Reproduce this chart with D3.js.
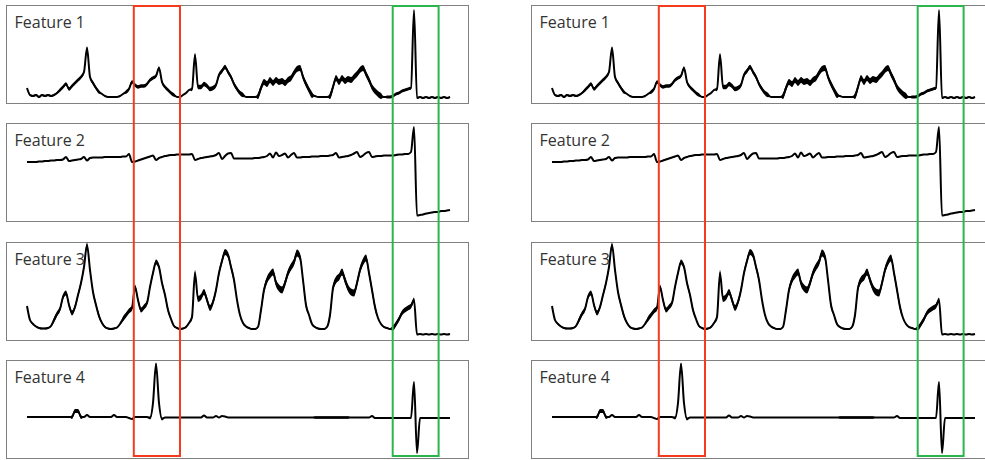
<!DOCTYPE html>
<html>
<head>
<meta charset="utf-8">
<script src="https://cdn.jsdelivr.net/npm/d3@7"></script>
<style>
  body { margin: 0; background: #fff; }
  svg { display: block; }
</style>
</head>
<body>
<div id="chart"></div>
<script>
var feature1 = [10, 3, 2, 3, 1, 3, 2, 3, 2, 3,
  5, 8, 11, 14, 9, 12, 15, 18, 21, 26,
  50, 21, 15, 10, 6, 4, 2, 1, 1, 1,
  1, 2, 4, 6, 9, 16, 13, 11, 12, 12,
  14, 18, 20, 22, 30, 16, 11, 8, 5, 3,
  1, 1, 3, 5, 8, 9, 43, 11, 11, 14,
  12, 9, 10, 13, 23, 27, 31, 26, 21, 14,
  9, 5, 3, 1, 1, 1, 1, 2, 10, 16,
  14, 18, 15, 18, 16, 17, 15, 18, 20, 25,
  29, 30, 21, 14, 8, 3, 2, 1, 1, 1,
  1, 2, 11, 20, 16, 20, 17, 19, 18, 21,
  24, 28, 30, 24, 18, 11, 7, 4, 2, 1,
  1, 1, 2, 4, 5, 7, 8, 9, 10, 88,
  0, 1, 0, 1, 0, 1, 0, 1, 0, 1,
  0, 1];

var feature2 = [54, 54, 54, 54, 54.5, 54.5, 55, 55, 55.5, 55.5,
  56, 56, 56.5, 59, 55, 55.5, 56, 56.5, 57, 59,
  55.5, 58, 58.5, 58.5, 58.5, 58.5, 59, 59, 59, 59,
  59, 59, 59.5, 59.5, 62, 54, 54.5, 55.5, 56.5, 57.5,
  58.5, 59.5, 60.5, 56, 58, 59, 60, 60.5, 61, 61,
  61.5, 61.5, 61.5, 61.5, 61.5, 62, 56, 57, 58, 58.5,
  59, 59.5, 60, 61, 63, 57, 60, 62.5, 63, 57.5,
  57.5, 57.5, 57.5, 57.5, 57.5, 57.5, 58, 58, 58.5, 59,
  60, 62.5, 58.5, 63.5, 60, 61, 62.5, 58.5, 61, 63,
  58.5, 58.5, 59, 59, 59, 59.5, 59.5, 59.5, 60, 60,
  60, 60.5, 61, 63, 58.5, 59, 59.5, 60, 61, 62.5,
  64, 59, 60.5, 63, 64, 59, 59.5, 60, 60, 60.5,
  60.5, 60.5, 60.5, 61, 61.5, 61.5, 62, 62, 64, 89,
  0.5, 1, 1.5, 2.5, 3, 3.5, 4, 4, 5, 5,
  5.5, 6];

var feature3 = [29, 15, 11, 8.5, 7, 6.5, 6.5, 7, 9, 15,
  21, 26, 38, 42, 30, 22, 28, 40, 52, 68,
  90, 65, 43, 30, 19, 12, 8, 6.5, 6, 6.5,
  7.5, 11, 16, 20, 24, 27, 48, 35, 25, 28,
  32, 48, 62, 73, 68, 52, 40, 25, 16, 9,
  7, 6, 6.5, 8, 12, 18, 62, 36, 38, 43,
  35, 27, 33, 45, 62, 74, 83, 80, 68, 55,
  35, 20, 12, 8.5, 7, 6, 6, 8, 25, 45,
  55, 60, 63, 52, 47, 45, 52, 62, 68, 73,
  82, 78, 55, 30, 20, 11, 8, 6.5, 6, 6,
  8, 20, 47, 55, 58, 63, 55, 47, 43, 42,
  52, 65, 73, 77, 62, 45, 28, 17, 11, 8,
  7, 6, 7, 11, 16, 22, 25, 27, 29, 35,
  0.5, 1, 0.5, 1, 0.5, 1, 0.5, 1, 0.5, 1,
  0.5, 1];

var feature4 = [36, 36, 36, 36, 36, 36, 36, 36, 36, 36,
  36, 36, 36, 36, 36, 36, 42, 42, 36, 36,
  38, 36, 36, 36, 36, 36, 36, 36, 36, 38,
  36, 36, 36, 36, 35, 34, 36, 36, 36, 36,
  36, 35, 50, 89, 50, 34, 35.5, 35.5, 35.5, 35.5,
  35.5, 35.5, 35.5, 35.5, 35.5, 35.5, 35.5, 35.5, 35.5, 37.5,
  35.5, 35.5, 35.5, 37, 35.5, 37, 36.5, 35.5, 35.5, 35.5,
  35.5, 35.5, 35.5, 35.5, 35.5, 35.5, 35.5, 35.5, 35.5, 35.5,
  35.5, 35.5, 35.5, 35.5, 35.5, 35.5, 35.5, 35.5, 35.5, 35.5,
  35.5, 35.5, 35.5, 35.5, 35.5, 35.5, 35.5, 35.5, 35.5, 35.5,
  35.5, 35.5, 35.5, 35.5, 35.5, 35.5, 35.5, 35.5, 35.5, 35.5,
  35.5, 35.5, 35.5, 35.5, 35.5, 37, 35, 35, 35, 35,
  35, 35, 35, 35, 35, 35, 35, 35, 35, 71,
  0, 35, 35, 35, 35, 35, 35, 35, 35, 35,
  35, 35];

// noisy stretches: [first sample, last sample, half width]
var feature1Noise = [[1, 10, 1], [11, 24, 1.8], [33, 49, 1.8], [55, 72, 2.2],
  [77, 95, 3], [101, 118, 3], [120, 128, 1.5], [130, 141, 0.8]];
var feature2Noise = [[0, 128, 0.4]];
var feature3Noise = [[1, 8, 0.8], [9, 24, 2.5], [25, 31, 0.8], [32, 47, 2.5],
  [48, 54, 0.8], [55, 69, 3], [70, 77, 0.8], [78, 93, 3.5], [94, 100, 0.8],
  [101, 116, 3.5], [117, 121, 0.8], [122, 129, 2.5]];
var feature4Noise = [[15, 18, 2], [41, 45, 1.5], [96, 107, 1.2]];

var featureNames = ["Feature 1", "Feature 2", "Feature 3", "Feature 4"];
var leftSeries = [feature1, feature2, feature3, feature4];
var rightSeries = [feature1, feature2, feature3, feature4];
var noiseSpans = [feature1Noise, feature2Noise, feature3Noise, feature4Noise];

// highlighted windows, in sample index
var redWindow = [35.6, 51];
var greenWindow = [121.9, 137.2];

// Set up the SVG canvas
var svgWidth = 985;
var svgHeight = 460;

var svg = d3.select("#chart")
    .append("svg")
    .attr("width", svgWidth)
    .attr("height", svgHeight);

var columnLeft = [6.5, 531.5];
var panelWidth = 462;
var panelHeight = 98;
var panelStep = 118.33;
var firstTop = 5;

var x = d3.scaleLinear()
    .domain([0, feature1.length - 1])
    .range([20.5, 443.5]);

var y = d3.scaleLinear()
    .domain([0, 90])
    .range([93, 3]);

var line = d3.line()
    .x(function(d) { return x(d.i); })
    .y(function(d) { return y(d.v); })
    .curve(d3.curveMonotoneX);

var band = d3.area()
    .x(function(d) { return x(d.i); })
    .y0(function(d) { return y(d.v - d.s); })
    .y1(function(d) { return y(d.v + d.s); })
    .curve(d3.curveMonotoneX);

function withSpread(values, spans) {
    return values.map(function(v, i) {
        var s = 0;
        spans.forEach(function(sp) {
            if (i >= sp[0] && i <= sp[1]) s = sp[2];
        });
        return { i: i, v: v, s: s };
    });
}

[leftSeries, rightSeries].forEach(function(series, c) {
    var col = svg.append("g")
        .attr("transform", "translate(" + columnLeft[c] + ",0)");

    series.forEach(function(values, k) {
        var top = Math.round(firstTop + k * panelStep);
        var g = col.append("g")
            .attr("transform", "translate(0," + top + ")");
        var pts = withSpread(values, noiseSpans[k]);

        g.append("rect")
            .attr("x", 0)
            .attr("y", 0.5)
            .attr("width", panelWidth)
            .attr("height", panelHeight)
            .attr("fill", "none")
            .attr("stroke", "#808080")
            .attr("stroke-width", 1);

        g.append("path")
            .datum(pts)
            .attr("d", band)
            .attr("fill", "#000")
            .attr("stroke", "none");

        g.append("path")
            .datum(pts)
            .attr("d", line)
            .attr("fill", "none")
            .attr("stroke", "#000")
            .attr("stroke-width", 2)
            .attr("stroke-linejoin", "round");

        g.append("text")
            .attr("x", 8)
            .attr("y", 23)
            .attr("font-family", "'Open Sans', 'Noto Sans', sans-serif")
            .attr("font-size", 16)
            .attr("fill", "#333")
            .text(featureNames[k]);
    });

    // highlight boxes over all four panels
    [[redWindow, "#f53b1e"], [greenWindow, "#2bb54d"]].forEach(function(w) {
        col.append("rect")
            .attr("x", x(w[0][0]))
            .attr("y", 6)
            .attr("width", x(w[0][1]) - x(w[0][0]))
            .attr("height", 450)
            .attr("fill", "none")
            .attr("stroke", w[1])
            .attr("stroke-width", 2);
    });
});
</script>
</body>
</html>
